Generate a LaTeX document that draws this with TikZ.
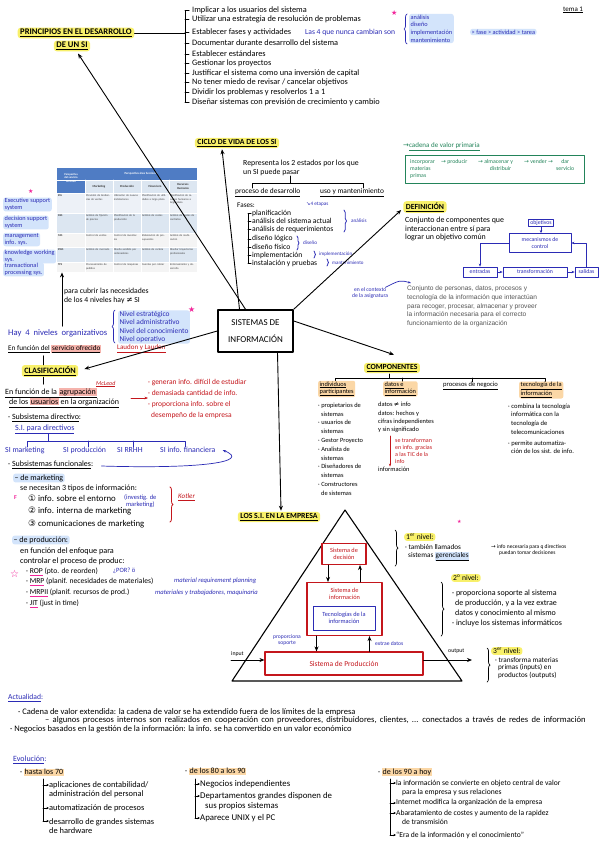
\documentclass[tikz,border=0pt]{standalone}
\usepackage{fontspec}
\setmainfont{Carlito}
\newfontfamily\typed{Liberation Sans}
\newfontfamily\sym{DejaVu Sans}
\usetikzlibrary{arrows.meta,calc,decorations.pathreplacing}
\definecolor{hblue}{HTML}{2B2BB5}
\definecolor{hred}{HTML}{C4161C}
\definecolor{hgreen}{HTML}{23845A}
\definecolor{hpink}{HTML}{F2259A}
\definecolor{hlyel}{HTML}{F8F06A}
\definecolor{hlblue}{HTML}{D3E4FB}
\definecolor{hlora}{HTML}{FBD7A6}
\definecolor{hlred}{HTML}{F5B3AC}
\definecolor{tbhead}{HTML}{4F7CC4}
\definecolor{tbrowa}{HTML}{DCE6F1}
\definecolor{tbrowb}{HTML}{EDF1F7}
\definecolor{tbrowc}{HTML}{F4F4F4}
\definecolor{typedgray}{HTML}{555555}
\newcommand{\hlbox}[2]{{\setlength{\fboxsep}{0.7pt}\colorbox{#1}{#2}}}
\newcommand{\pulin}[1]{{\color{hpink}\underline{\color{black}#1}}}
\newcommand{\tc}[4]{\node[cell] (#1) at (#2,#3) {#4};}
\begin{document}
\begin{tikzpicture}[x=1pt,y=-1pt,line cap=round,line join=round,
  fs/.style 2 args={font=\fontsize{#1}{#2}\selectfont},
  txt/.style={anchor=west, inner sep=0pt, align=left, font=\fontsize{6.5}{8}\selectfont},
  head/.style={anchor=center, inner xsep=2.5pt, inner ysep=1.5pt, fill=hlyel, rounded corners=3pt, font=\fontsize{7.8}{8.5}\selectfont\bfseries},
  hlb/.style={fill=hlblue, rounded corners=2.5pt, inner xsep=1.5pt, inner ysep=1pt},
  hlo/.style={fill=hlora, rounded corners=2pt, inner xsep=1.5pt, inner ysep=1pt},
  hly/.style={fill=hlyel, rounded corners=3pt, inner xsep=2pt, inner ysep=1.2pt},
  ln/.style={draw=black, line width=0.7pt},
  arr/.style={-{Stealth[length=5pt,width=4pt]}, line width=0.9pt},
  sarr/.style={-{Stealth[length=2.5pt,width=2.2pt]}, line width=0.6pt},
  barr/.style={draw=hblue, line width=0.8pt, -{Stealth[length=3pt,width=2.5pt]}},
  bbox/.style={draw=hblue, line width=0.8pt, text=hblue, inner xsep=1.5pt, inner ysep=1pt, font=\fontsize{5.8}{6.5}\selectfont, align=center},
  rbox/.style={draw=hred, line width=1.1pt, text=hred, align=center, inner sep=0pt, font=\fontsize{6.3}{7}\selectfont},
  cell/.style={anchor=north west, inner sep=0.8pt, align=left, text width=25pt, font=\fontsize{2.8}{3.3}\selectfont, text=black!75},
  brc/.style={decorate, decoration={brace, amplitude=#1}}]
\useasboundingbox (0,0) rectangle (599,848);
\fill[white] (0,0) rectangle (599,848);

% ---------- PRINCIPIOS ----------
\node[head,fs={8.6}{9}] (princA) at (76,33) {\bfseries\underline{PRINCIPIOS EN EL DESARROLLO}};
\node[head,fs={8.6}{9}] (princB) at (72,46) {\bfseries\underline{DE UN SI}};
\coordinate (pbr) at (185,33);
\draw[ln] (princA.east) -- (pbr);
\draw[ln] (189,10) -- (185,10) -- (185,102) -- (189,102);
\foreach \y/\t [count=\i] in {10/{Implicar a los usuarios del sistema},19/{Utilizar una estrategia de resolución de problemas},32/{Establecer fases y actividades},43/{Documentar durante desarrollo del sistema},54/{Establecer estándares},63/{Gestionar los proyectos},73/{Justificar el sistema como una inversión de capital},82/{No tener miedo de revisar / cancelar objetivos},92/{Dividir los problemas y resolverlos 1 a 1},102/{Diseñar sistemas con previsión de crecimiento y cambio}}{
  \draw[ln] (185,\y) -- (189,\y);
  \node[txt,fs={8.3}{8}] (pr\i) at (192,\y) {\t};
}
\node[txt,fs={7.6}{8},text=hblue] (nunca) at (305,32) {Las 4 que nunca cambian son};
\node[txt,fs={7}{7},text=hpink] (star1) at (391,13) {\sym ★};
\draw[hblue,line width=0.7pt,brc=3pt] (407,44) -- (407,14);
\node[txt,hlb,fs={6.3}{7.6},text=hblue] (fases) at (409,28.5) {análisis\\diseño\\implementación\\mantenimiento};
\node[txt,hlb,fs={6.3}{7},text=hblue] (fat) at (470,32) {> fase > actividad > tarea};
\node[txt,fs={7}{8}] (tema) at (563,10) {\underline{tema 1}};

% ---------- TABLE ----------
\node[inner sep=0pt, minimum width=140pt, minimum height=104pt, anchor=north west] (tbl) at (57,168) {};
\fill[tbhead] (57,168) rectangle (197,180);
\fill[tbhead] (57,180) rectangle (85,193);
\fill[tbrowa] (85,180) rectangle (197,193);
\fill[tbrowb] (57,193) rectangle (197,213);
\fill[tbrowa] (57,213) rectangle (197,233);
\fill[tbrowc] (57,233) rectangle (197,247);
\fill[tbrowa] (57,247) rectangle (197,262);
\fill[tbrowc] (57,262) rectangle (197,272);
\foreach \x in {85,113,141,169} \draw[white,line width=0.6pt] (\x,180) -- (\x,272);
\foreach \y in {180,193,213,233,247,262} \draw[white,line width=0.6pt] (57,\y) -- (197,\y);
\node[font=\bfseries\fontsize{2.8}{3.3}\selectfont,text=white,align=center] (th1) at (71,178) {Perspectiva\\del servicio\\ofrecido};
\node[font=\bfseries\fontsize{3}{3.5}\selectfont,text=white] (th2) at (141,174) {Perspectiva área funcional};
\node[font=\bfseries\fontsize{3}{3.5}\selectfont,text=black!80] (thm) at (99,186.5) {Marketing};
\node[font=\bfseries\fontsize{3}{3.5}\selectfont,text=black!80] (thp) at (127,186.5) {Producción};
\node[font=\bfseries\fontsize{3}{3.5}\selectfont,text=black!80] (thf) at (155,186.5) {Financiero};
\node[font=\bfseries\fontsize{3}{3.5}\selectfont,text=black!80,align=center] (thr) at (183,186.5) {Recursos\\Humanos};
\foreach \y/\l [count=\i] in {193/ESS,213/DSS,233/MIS,247/KWS,262/TPS}
  \node[cell,font=\bfseries\fontsize{2.8}{3.3}\selectfont] (rl\i) at (57,\y+1) {\l};
\tc{c11}{85}{194}{Previsión de tendencias de ventas}
\tc{c12}{113}{194}{Ubicación de nuevas instalaciones}
\tc{c13}{141}{194}{Planificación de utilidades a largo plazo}
\tc{c14}{169}{194}{Planificación de recursos humanos a largo plazo}
\tc{c21}{85}{214}{Análisis de fijación de precios}
\tc{c22}{113}{214}{Planificación de la producción}
\tc{c23}{141}{214}{Análisis de costes}
\tc{c24}{169}{214}{Análisis de costes de contratos}
\tc{c31}{85}{234}{Control de ventas}
\tc{c32}{113}{234}{Control de inventarios}
\tc{c33}{141}{234}{Elaboración de presupuestos}
\tc{c34}{169}{234}{Análisis de reubicación}
\tc{c41}{85}{248}{Análisis de mercado}
\tc{c42}{113}{248}{Diseño asistido por ordenadores}
\tc{c43}{141}{248}{Análisis de cartera}
\tc{c44}{169}{248}{Diseñar trayectorias profesionales}
\tc{c51}{85}{263}{Procesamiento de pedidos}
\tc{c52}{113}{263}{Control de máquinas}
\tc{c53}{141}{263}{Cuentas por cobrar}
\tc{c54}{169}{263}{Entrenamiento y desarrollo}

% ---------- left blue list ----------
\node[txt,fs={6}{6},text=hpink] (star2) at (28,191) {\sym ★};
\node[txt,hlb,fs={6.3}{6.5},text=hblue] (ess) at (3,204.5) {Executive support\\system};
\node[txt,hlb,fs={6.3}{6.5},text=hblue] (dss) at (3,222.5) {decision support\\system};
\node[txt,hlb,fs={6.3}{6.5},text=hblue] (mis) at (3,239.5) {management\\info. sys.};
\node[txt,hlb,fs={6.3}{6.5},text=hblue] (kws) at (3,256.5) {knowledge working\\sys.};
\node[txt,hlb,fs={6.3}{6.5},text=hblue] (tps) at (3,269.5) {transactional\\processing sys.};

% ---------- niveles ----------
\node[txt,fs={7.7}{8.5}] (cubrir) at (64,296) {para cubrir las necesidades\\de los 4 niveles hay {\sym ≠} SI};
\node[txt,fs={8.6}{9},text=hblue] (hay4) at (8,333) {Hay\ \ 4\ \ niveles\ \ organizativos};
\coordinate (upfoot) at ($(hay4.north west)+(54,-3)$);
\draw[arr] (upfoot) -- (upfoot |- tbl.south);
\draw[hblue,line width=0.7pt,brc=3pt] (115,343) -- (115,310);
\node[txt,hlb,fs={7.4}{8.3},text=hblue] (niveles) at (118,327) {Nivel estratégico\\Nivel administrativo\\Nivel del conocimiento\\Nivel operativo};
\node[txt,fs={8}{8},text=hpink] (star3) at (188,310) {\sym ★};
\node[txt,fs={7.2}{8}] (efs) at (8,349) {\underline{En función del} \hlbox{hlred}{\underline{servicio ofrecido}}};
\node[txt,fs={7}{8},text=hred] (laudon) at (117,349) {\underline{Laudon y Laudon}};

% ---------- CLASIFICACION ----------
\node[head,fs={8.2}{9}] (clas) at (50,371) {\bfseries\underline{CLASIFICACIÓN}};
\draw[ln] ($(clas.north)+(-7,0)$) -- ++(0,-9);
\draw[ln] ($(clas.south)+(-7,0)$) -- ++(0,7);
\node[txt,fs={8}{8}] (efa1) at (5,393) {\underline{En función de la \hlbox{hlred}{agrupación}}};
\node[txt,fs={8}{8}] (efa2) at (9,403) {\underline{de los \hlbox{hlred}{usuarios} en la organización}};
\node[txt,fs={6}{6},text=hred] (mcleod) at (96,384) {\underline{\itshape McLeod}};
\node[txt,fs={7.5}{10.7},text=hred] (rlist) at (148,399) {· generan info. difícil de estudiar\\· demasiada cantidad de info.\\· proporciona info. sobre el\\\hspace*{3pt}desempeño de la empresa};
\coordinate (ra0) at (131,398);
\draw[hred,line width=0.8pt,-{Stealth[length=3.5pt]}] (ra0) -- (ra0 -| rlist.west);
\node[txt,fs={8}{8}] (subdir) at (8,418) {· \underline{Subsistema directivo}:};
\node[txt,fs={8}{8},text=hblue] (sidir) at (15,429) {\underline{S.I. para directivos}};
\draw[hblue,line width=0.7pt] (48,434) -- (48,441);
\draw[hblue,line width=0.7pt] (27,447) -- (27,441) -- (185,441) -- (185,447);
\draw[hblue,line width=0.7pt] (88,441) -- (88,447);
\draw[hblue,line width=0.7pt] (133,441) -- (133,447);
\node[txt,fs={7.8}{8},text=hblue] (simk) at (5,450) {SI marketing};
\node[txt,fs={7.8}{8},text=hblue] (sipr) at (63,450) {SI producción};
\node[txt,fs={7.8}{8},text=hblue] (sirh) at (117,450) {SI RRHH};
\node[txt,fs={7.8}{8},text=hblue] (sifin) at (160,450) {SI info. financiera};
\node[txt,fs={8}{8}] (subfun) at (8,465) {· \underline{Subsistemas funcionales}:};
\draw[hblue,line width=0.7pt,-{Stealth[length=3.5pt]}] ($(subfun.east)+(8,1)$) .. controls (200,469) and (252,462) .. ($(sifin.east)+(7,0)$);
\node[txt,hlb,fs={8}{8}] (demk) at (13,478) {– de marketing};
\node[txt,fs={8}{8}] (necesitan) at (20,488) {se necesitan 3 tipos de información:};
\node[txt,fs={6}{6},text=hpink] (fmark) at (14,498) {\bfseries F};
\node[txt,fs={8.8}{8}] (m1) at (28,498) {{\sym ①} info. sobre el entorno};
\node[txt,fs={6.5}{6.5},text=hblue,align=center] (m1b) at (124,501) {(investig. de\\marketing)};
\node[txt,fs={8.8}{8}] (m2) at (28,511) {{\sym ②} info. interna de marketing};
\node[txt,fs={8.8}{8}] (m3) at (28,524) {{\sym ③} comunicaciones de marketing};
\draw[hred,line width=0.8pt,brc=3pt] (170,487) -- (170,522);
\node[txt,fs={7}{8},text=hred] (kotler) at (178,497) {\underline{\itshape Kotler}};
\node[txt,hlb,fs={8}{8}] (depr) at (12,540) {– de producción:};
\node[txt,fs={8.2}{10}] (enfoque) at (20,556) {en función del enfoque para\\controlar el proceso de produc:};
\node[txt,fs={10}{10},text=hpink] (star4) at (10,574) {\sym ☆};
\node[txt,fs={7.6}{8}] (rop) at (26,572) {· \pulin{ROP} (pto. de reorden)};
\node[txt,fs={6.5}{8},text=hblue] (por) at (113,571) {¿POR? ö};
\node[txt,fs={7.6}{8}] (mrp) at (26,582) {· \pulin{MRP} (planif. necesidades de materiales)};
\node[txt,fs={6.6}{8},text=hblue] (mrpb) at (174,581) {\itshape material requirement planning};
\node[txt,fs={7.6}{8}] (mrp2) at (26,593) {· \pulin{MRPII} (planif. recursos de prod.)};
\node[txt,fs={6.6}{8},text=hblue] (mrp2b) at (155,593) {\itshape materiales y trabajadores, maquinaria};
\node[txt,fs={7.6}{8}] (jit) at (26,604) {· \pulin{JIT} (just in time)};

% ---------- CICLO DE VIDA ----------
\node[head] (ciclo) at (237,143) {\underline{CICLO DE VIDA DE LOS SI}};
\node[txt,fs={7.8}{9}] (repr) at (243,167.5) {Representa los 2 estados por los que\\un SI puede pasar};
\draw[ln] (290,176) -- (290,183);
\draw[ln] (252,188) -- (252,183) -- (363,183) -- (363,188);
\node[txt,fs={7.4}{8}] (pdes) at (235,193) {\underline{proceso de desarrollo}};
\node[txt,fs={7.4}{8}] (uso) at (320,193) {\underline{uso y mantenimiento}};
\node[txt,fs={7.2}{8}] (faseslbl) at (237,205) {Fases:};
\node[txt,fs={5.2}{6},text=hblue] (etapas) at (306,204) {{\sym ↘}4 etapas};
\draw[ln] (251,213) -- (248,213) -- (248,263) -- (251,263);
\foreach \y/\t [count=\i] in {213/planificación,221/análisis del sistema actual,229/análisis de requerimientos,239/diseño lógico,247/diseño físico,255/implementación,263/instalación y pruebas}{
  \draw[ln] (248,\y) -- (251,\y);
  \node[txt,fs={7.6}{8}] (fa\i) at (252,\y) {\t};
}
\draw[hblue,line width=0.7pt,brc=2.5pt] (344,210) -- (344,232);
\node[txt,fs={5.2}{6},text=hblue] (lan) at (351,221) {análisis};
\draw[hblue,line width=0.7pt,brc=2pt] (297,236) -- (297,250);
\node[txt,fs={5.2}{6},text=hblue] (ldi) at (303,243) {diseño};
\draw[hblue,line width=0.7pt,brc=1.5pt] (314,251) -- (314,258);
\node[txt,fs={5}{6},text=hblue] (lim) at (319,254) {implementación};
\draw[hblue,line width=0.7pt,brc=1.5pt] (327,259) -- (327,266);
\node[txt,fs={5}{6},text=hblue] (lma) at (332,262.5) {mantenimiento};

% ---------- cadena de valor ----------
\node[txt,fs={7}{8},text=hgreen] (cvp) at (403,147) {{\sym →}\underline{cadena de valor primaria}};
\node[draw=hgreen,line width=0.9pt,minimum width=179pt,minimum height=28pt,inner sep=0pt,anchor=north west] (cvbox) at (405,155) {};
\node[txt,fs={5.8}{6.8},text=hgreen] (cv1) at (410,169) {incorporar\\materias\\primas};
\node[txt,fs={5.8}{6.8},text=hgreen] (cv2) at (441,162) {{\sym →} producir};
\node[txt,fs={5.8}{6.8},text=hgreen,align=center] (cv3) at (478,165.4) {{\sym →} almacenar y\\\hspace*{10pt}distribuir};
\node[txt,fs={5.8}{6.8},text=hgreen] (cv4) at (524,162) {{\sym →} vender {\sym →}};
\node[txt,fs={5.8}{6.8},text=hgreen,align=center] (cv5) at (556,165.4) {dar\\servicio};

% ---------- DEFINICION ----------
\node[head] (def) at (425,207) {\underline{DEFINICIÓN}};
\node[txt,fs={7.9}{8.8}] (defc) at (405,229) {Conjunto de componentes que\\interaccionan entre sí para\\lograr un objetivo común};
\node[bbox] (obj) at (541,223) {objetivos};
\node[bbox,minimum width=62pt,minimum height=19pt] (mec) at (540,243) {mecanismos de\\control};
\node[bbox,minimum width=34pt,minimum height=10pt] (ent) at (480,272) {entradas};
\node[bbox,minimum width=64pt,minimum height=10pt] (tra) at (535,272) {transformación};
\node[bbox,minimum width=23pt,minimum height=10pt] (sal) at (586.5,272) {salidas};
\draw[barr] (obj.south) -- (obj.south |- mec.north);
\draw[barr] (mec.west) -| (ent.north);
\draw[barr] (ent) -- (tra);
\draw[barr] (tra) -- (sal);
\draw[barr] (sal.north) |- (mec.east);
\node[txt,fs={5.6}{6},text=hblue,align=center] (ctx) at (352,293) {en el contexto\\de la asignatura};
\draw[hblue,line width=0.7pt,-{Stealth[length=3pt]}] ($(ctx.north east)+(-3,0)$) .. controls (400,280) .. (411,283);
\node[txt,font={\typed\fontsize{6.6}{8.7}\selectfont},text=typedgray] (deftyped) at (407,306.5) {Conjunto de personas, datos, procesos y\\tecnología de la información que interactúan\\para recoger, procesar, almacenar y proveer\\la información necesaria para el correcto\\funcionamiento de la organización};

% ---------- CENTRAL ----------
\node[draw,line width=1.5pt,minimum width=75pt,minimum height=42pt,inner sep=0pt,align=center,font=\fontsize{9}{17}\selectfont] (si) at (255.5,331) {SISTEMAS DE\\INFORMACIÓN};

% ---------- COMPONENTES ----------
\node[head] (comp) at (392,368) {\underline{COMPONENTES}};
\draw[ln] (389,374) -- (389,378);
\draw[ln] (335,382) -- (335,378) -- (545,378) -- (545,382);
\draw[ln] (402,378) -- (402,382);
\draw[ln] (472,378) -- (472,382);
\node[txt,hlo,fs={6.4}{7}] (indiv) at (318,389) {\underline{individuos}\\\underline{participantes}};
\node[txt,hlo,fs={6.4}{7}] (datos) at (383,389) {\underline{datos e}\\\underline{información}};
\node[txt,fs={6.6}{7}] (proc) at (443,386) {\underline{procesos de negocio}};
\node[txt,hlo,fs={6.4}{7}] (tecn) at (519,390) {\underline{tecnología de la}\\\underline{información}};
\node[txt,fs={6.4}{8.8}] (indl) at (318,449) {· propietarios de\\\hspace*{3pt}sistemas\\· usuarios de\\\hspace*{3pt}sistemas\\· Gestor Proyecto\\· Analista de\\\hspace*{3pt}sistemas\\· Diseñadores de\\\hspace*{3pt}sistemas\\· Constructores\\\hspace*{3pt}de sistemas};
\node[txt,fs={6.4}{8.3}] (datl) at (378,417.5) {datos {\sym ≠} info\\datos: hechos y\\cifras independientes\\y sin significado};
\node[txt,fs={6.4}{8}] (infon) at (378,469) {información};
\coordinate (da0) at (390,436);
\draw[hred,line width=0.7pt,-{Stealth[length=3pt]}] (da0) -- (da0 |- infon.north);
\node[txt,fs={6}{7.3},text=hred] (transf) at (395,451) {se transforman\\en info. gracias\\a las TIC de la\\info};
\node[txt,fs={6.6}{8.8}] (tecl1) at (508,419) {· combina la tecnología\\\hspace*{3pt}informática con la\\\hspace*{3pt}tecnología de\\\hspace*{3pt}telecomunicaciones};
\node[txt,fs={6.6}{8.5}] (tecl2) at (508,447) {· permite automatiza-\\\hspace*{3pt}ción de los sist. de info.};

% ---------- LOS S.I. EN LA EMPRESA ----------
\node[head] (emp) at (279,517) {\underline{LOS S.I. EN LA EMPRESA}};

% central connectors
\draw[arr] ($(si.north)+(-10,0)$) -- ($(princB.south)+(6,2)$);
\draw[arr] ($(si.north)+(-16,0)$) -- ($(ciclo.south)+(-15,1)$);
\draw[arr] (si.north east) -- ($(def.south west)+(-2,-3)$);
\draw[arr] ($(si.east)+(0,-10)$) -- ($(comp.north)+(2,-8)$);
\draw[arr] (si.west) -- ($(clas.east)+(6,-2)$);
\draw[arr] ($(si.south)+(22,0)$) -- ($(emp.north)+(2,-1)$);

\coordinate (apex) at (345,510);
\coordinate (bl) at (232,681);
\coordinate (br) at (462,681);
\draw[line width=1.1pt] (apex) -- (bl) -- (br) -- cycle;
\node[rbox,minimum width=44pt,minimum height=21pt,fill=white] (dec) at (344,554) {Sistema de\\decisión};
\node[rbox,minimum width=75pt,minimum height=53pt,fill=white] (sinf) at (344.5,609) {};
\node[text=hred,align=center,font=\fontsize{6.3}{7}\selectfont,inner sep=0pt] (sinft) at (344.5,594) {Sistema de\\información};
\node[bbox,minimum width=62pt,minimum height=24pt,font=\fontsize{6.3}{7}\selectfont] (tec) at (344,618) {Tecnologías de la\\información};
\node[rbox,minimum width=158pt,minimum height=23pt,fill=white,font=\fontsize{7.5}{8}\selectfont] (prod) at (344,663.5) {Sistema de Producción};
\coordinate (d1) at ($(dec.south)+(-16,0)$);
\coordinate (d2) at ($(dec.south)+(16,0)$);
\draw[arr,line width=0.8pt] (d1) -- (d1 |- sinf.north);
\draw[arr,line width=0.8pt] (d2 |- sinf.north) -- (d2);
\coordinate (s1) at ($(sinf.south)+(-28,0)$);
\coordinate (s2) at ($(sinf.south)+(25,0)$);
\draw[arr,line width=0.8pt] (s1) -- (s1 |- prod.north);
\draw[arr,line width=0.8pt] (s2 |- prod.north) -- (s2);
\node[fs={5.6}{6},text=hblue,align=center,inner sep=0pt] (propsop) at (287,640.5) {proporciona\\soporte};
\node[txt,fs={5.6}{6},text=hblue] (extrae) at (375,644) {extrae datos};
\node[txt,fs={5.8}{6}] (input) at (231,654) {input};
\coordinate (inp) at (231,660);
\draw[arr,line width=0.8pt] (inp) -- (inp -| prod.west);
\node[txt,fs={5.8}{6}] (output) at (448,651) {output};
\coordinate (outp) at (472,660);
\draw[arr,line width=0.8pt] (prod.east |- outp) -- (outp);

% levels
\draw[line width=0.7pt,brc=3pt] (395,530) -- (395,566);
\node[txt,hly,fs={7.6}{8}] (niv1) at (404,537) {1\textsuperscript{er} nivel:};
\node[txt,fs={5}{6},text=hpink] (pk5) at (457,522) {\sym ★};
\node[txt,fs={7.2}{8}] (niv1t) at (405,553) {· también llamados\\\hspace*{3pt}sistemas \hlbox{hlblue}{\underline{gerenciales}}};
\node[txt,fs={5.5}{6}] (niv1n) at (491,550) {{\sym →} info necesaria para q directivos\\\hspace*{8pt}puedan tomar decisiones};
\draw[line width=0.7pt,brc=3pt] (441,582) -- (441,636);
\node[txt,hly,fs={7.6}{8}] (niv2) at (451,578) {2\textsuperscript{o} nivel:};
\node[txt,fs={8}{10}] (niv2t) at (452,608) {· proporciona soporte al sistema\\\hspace*{3pt}de producción, y a la vez extrae\\\hspace*{3pt}datos y conocimiento al mismo\\· incluye los sistemas informáticos};
\draw[line width=0.7pt,brc=3pt] (487,648) -- (487,682);
\node[txt,hly,fs={7.6}{8}] (niv3) at (491,651) {3\textsuperscript{er} nivel:};
\node[txt,fs={7.2}{7.2}] (niv3t) at (495,668) {· transforma materias\\\hspace*{3pt}primas (inputs) en\\\hspace*{3pt}productos (outputs)};

% ---------- ACTUALIDAD ----------
\node[txt,fs={7.6}{8},text=hblue] (act) at (8,698) {\underline{Actualidad}:};
\node[txt,fs={8.5}{8}] (act1) at (18,712) {· Cadena de valor extendida: la cadena de valor se ha extendido fuera de los límites de la empresa};
\node[txt,font={\fontsize{8.6}{8}\selectfont\spaceskip=3.2pt}] (act2) at (45,720.5) {– algunos procesos internos son realizados en cooperación con proveedores, distribuidores, clientes, ... conectados a través de redes de información};
\node[txt,fs={8.5}{8}] (act3) at (10,729) {· Negocios basados en la gestión de la información: la info. se ha convertido en un valor económico};

% ---------- EVOLUCION ----------
\node[txt,fs={8}{8},text=hblue] (evo) at (13,760) {\underline{Evolución}:};
\node[txt,fs={8}{8}] (e70) at (20,772) {· \hlbox{hlora}{hasta los 70}};
\draw[ln] (43,779) -- (43,821);
\node[txt,fs={8.4}{9.5}] (e70a) at (49,790) {aplicaciones de contabilidad/\\administración del personal};
\node[txt,fs={8.4}{9.5}] (e70b) at (49,808) {automatización de procesos};
\node[txt,fs={8.4}{9.5}] (e70c) at (49,826) {desarrollo de grandes sistemas\\de hardware};
\draw[sarr] (43,785) -- (e70a.west |- 0,785);
\draw[sarr] (43,808) -- (e70b.west);
\draw[sarr] (43,821) -- (e70c.west |- 0,821);

\node[txt,fs={8}{8}] (e80) at (185,771) {· \hlbox{hlora}{de los 80 a los 90}};
\draw[ln] (195,779) -- (195,818);
\node[txt,fs={8.8}{9.5}] (e80a) at (200,784) {Negocios independientes};
\node[txt,fs={8.8}{9.5}] (e80b) at (200,801) {Departamentos grandes disponen de\\\hspace*{5pt}sus propios sistemas};
\node[txt,fs={8.8}{9.5}] (e80c) at (200,818) {Aparece UNIX y el PC};
\draw[sarr] (195,784) -- (e80a.west);
\draw[sarr] (195,796) -- (e80b.west |- 0,796);
\draw[sarr] (195,818) -- (e80c.west);

\node[txt,fs={8}{8}] (e90) at (378,772) {· \hlbox{hlora}{de los 90 a hoy}};
\draw[ln] (390,779) -- (390,835);
\node[txt,fs={7.6}{9}] (e90a) at (396,787.5) {la información se convierte en objeto central de valor\\\hspace*{6pt}para la empresa y sus relaciones};
\node[txt,fs={7.6}{9}] (e90b) at (396,803) {Internet modifica la organización de la empresa};
\node[txt,fs={7.6}{9}] (e90c) at (396,817.5) {Abaratamiento de costes y aumento de la rapidez\\\hspace*{6pt}de transmisión};
\node[txt,fs={7.6}{9}] (e90d) at (396,835) {“Era de la información y el conocimiento”};
\draw[sarr] (390,783) -- (e90a.west |- 0,783);
\draw[sarr] (390,803) -- (e90b.west);
\draw[sarr] (390,813) -- (e90c.west |- 0,813);
\draw[sarr] (390,835) -- (e90d.west);
\end{tikzpicture}
\end{document}
